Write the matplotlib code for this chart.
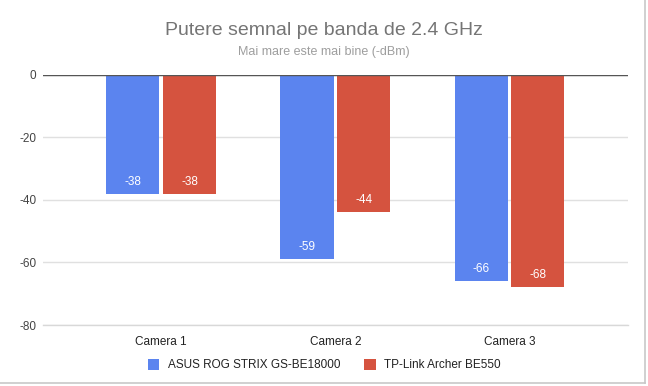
import matplotlib
matplotlib.use("Agg")
import matplotlib.pyplot as plt
from matplotlib.lines import Line2D
from matplotlib.patches import Patch

categories = ["Camera 1", "Camera 2", "Camera 3"]
series_names = ["ASUS ROG STRIX GS-BE18000", "TP-Link Archer BE550"]
asus = [-38, -59, -66]
tplink = [-38, -44, -68]
yticks = [0, -20, -40, -60, -80]
colors = ["#5b84ef", "#d5533f"]

plt.rcParams['font.family'] = ['Liberation Sans', 'DejaVu Sans']
fig = plt.figure(figsize=(6.48, 3.86), dpi=100)
ax = fig.add_axes([0.066, 0.158, 0.903, 0.648])

x = list(range(len(categories)))
w = 0.305
off = 0.163
for vals, c, d in [(asus, colors[0], -off), (tplink, colors[1], off)]:
    xs = [i + d for i in x]
    ax.bar(xs, vals, width=w, color=c, zorder=3)
    for xi, v in zip(xs, vals):
        ax.annotate(f"{v}", (xi, v), xytext=(0, 12), textcoords="offset pixels",
                    ha="center", va="center", color="white", fontsize=8.5, zorder=4)

ax.set_xlim(-0.68, 2.68)
ax.set_ylim(-80, 0)
ax.set_yticks(yticks)
ax.set_yticklabels([str(t) for t in yticks], color="#444444", fontsize=8.5)
ax.set_xticks(x)
ax.set_xticklabels(categories, color="#222222", fontsize=8.5)
ax.tick_params(axis="x", length=0, pad=8)
ax.tick_params(axis="y", length=0, pad=4.5)
for s in ax.spines.values():
    s.set_visible(False)
ax.grid(axis="y", color="#e0e0e0", linewidth=1, zorder=0)
ax.axhline(0, color="#555555", linewidth=1, zorder=5)
ax.axhline(-80, color="#d8d8d8", linewidth=1, zorder=1, clip_on=False)
ax.set_ylim(-80, 0)

fig.text(0.5, 0.920, "Putere semnal pe banda de 2.4 GHz", ha="center", va="center",
         fontsize=14, color="#757575")
fig.text(0.5, 0.866, "Mai mare este mai bine (-dBm)", ha="center", va="center",
         fontsize=9, color="#9e9e9e")

handles = [Patch(facecolor=c, edgecolor="none") for c in colors]
fig.legend(handles, series_names, loc="center", bbox_to_anchor=(0.5, 0.054), ncol=2,
           frameon=False, fontsize=8.5, handlelength=1.0, handleheight=1.0,
           columnspacing=2.0, handletextpad=0.7, labelcolor="#222222")

fig.add_artist(Line2D([0.996, 0.996], [0.008, 1.0], color="#c8c8c8", linewidth=1.2, transform=fig.transFigure))
fig.add_artist(Line2D([0.0, 0.996], [0.008, 0.008], color="#c8c8c8", linewidth=1.2, transform=fig.transFigure))

fig.savefig("out.png", dpi=100, facecolor="white")
